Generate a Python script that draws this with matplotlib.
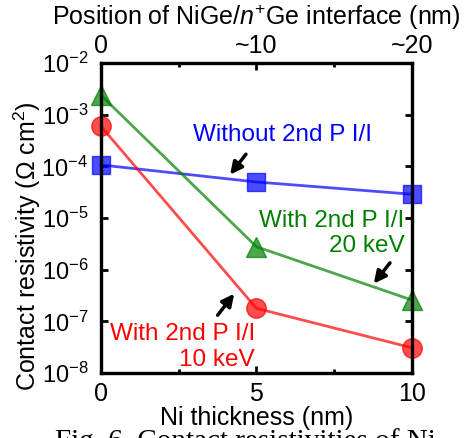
import numpy as np
import matplotlib
matplotlib.use('Agg')
import matplotlib.pyplot as plt

plt.rcParams['font.family'] = ['Liberation Sans', 'DejaVu Sans']
plt.rcParams['mathtext.fontset'] = 'custom'
plt.rcParams['mathtext.rm'] = 'Liberation Sans'
plt.rcParams['mathtext.it'] = 'Liberation Sans:italic'

ni_thickness = [0, 5, 10]
top_ticks = ['0', '~10', '~20']
without_ii = [1.07e-4, 5.0e-5, 2.9e-5]
with_ii_20kev = [2.4e-3, 2.8e-6, 2.6e-7]
with_ii_10kev = [6.0e-4, 1.8e-7, 3.1e-8]

fig = plt.figure(figsize=(4.67, 4.38), dpi=100)
ax = fig.add_axes([0.216, 0.148, 0.666, 0.708])

ax.plot(ni_thickness, without_ii, color='blue', alpha=0.7, lw=2, marker='s', ms=13.5, clip_on=False, zorder=3)
ax.plot(ni_thickness, with_ii_20kev, color='green', alpha=0.7, lw=2, marker='^', ms=15, clip_on=False, zorder=3)
ax.plot(ni_thickness, with_ii_10kev, color='red', alpha=0.7, lw=2, marker='o', ms=14, clip_on=False, zorder=3)

ax.set_yscale('log')
ax.set_ylim(1e-8, 1e-2)
ax.set_xlim(0, 10)
ax.set_xticks([0, 5, 10])
ax.set_xticks([2.5, 7.5], minor=True)
ax.set_yticks([1e-8, 1e-7, 1e-6, 1e-5, 1e-4, 1e-3, 1e-2])
ax.yaxis.set_minor_locator(matplotlib.ticker.NullLocator())
ax.tick_params(which='both', direction='in', width=2, labelsize=18, top=False, right=True)
ax.tick_params(which='major', length=5, pad=6)
ax.tick_params(which='minor', length=3)
ax.tick_params(axis='y', labelsize=17, pad=9)
for s in ax.spines.values():
    s.set_linewidth(2.3)

ax.set_xlabel('Ni thickness (nm)', fontsize=18, labelpad=0)
ax.set_ylabel('Contact resistivity (\u03a9 cm$^2$)', fontsize=18)
ax.yaxis.set_label_coords(-0.185, 0.41)

ax2 = ax.twiny()
ax2.set_xlim(0, 10)
ax2.set_xticks([0, 5, 10])
ax2.set_xticklabels(top_ticks)
ax2.set_xticks([2.5, 7.5], minor=True)
ax2.tick_params(which='both', direction='in', width=2, labelsize=18, pad=4)
ax2.tick_params(which='major', length=5)
ax2.tick_params(which='minor', length=3)
ax2.set_xlabel('Position of NiGe/$n^{+}$Ge interface (nm)', fontsize=18, labelpad=6)
for s in ax2.spines.values():
    s.set_linewidth(2.3)

ax.text(5.85, 4.0e-4, 'Without 2nd P I/I', color='blue', fontsize=17.5, ha='center', va='center')
ax.text(9.77, 5.1e-6, 'With 2nd P I/I\n20 keV', color='green', fontsize=17.5,
        ha='right', va='center', multialignment='right', linespacing=1.2)
ax.text(4.95, 3.2e-8, 'With 2nd P I/I\n10 keV', color='red', fontsize=17.5,
        ha='right', va='center', multialignment='right', linespacing=1.2)

arrow = dict(arrowstyle='-|>', color='black', lw=2.5, mutation_scale=18)
ax.annotate('', xy=(4.1, 6.3e-5), xytext=(4.72, 1.9e-4), arrowprops=arrow)
ax.annotate('', xy=(8.72, 4.9e-7), xytext=(9.35, 1.5e-6), arrowprops=arrow)
ax.annotate('', xy=(4.34, 3.8e-7), xytext=(3.70, 1.2e-7), arrowprops=arrow)

fig.text(0.118, 0.022, 'Fig. 6. Contact resistivities of Ni', fontsize=21,
         family='Liberation Serif', va='top', ha='left')

fig.savefig('out.png', dpi=100)
